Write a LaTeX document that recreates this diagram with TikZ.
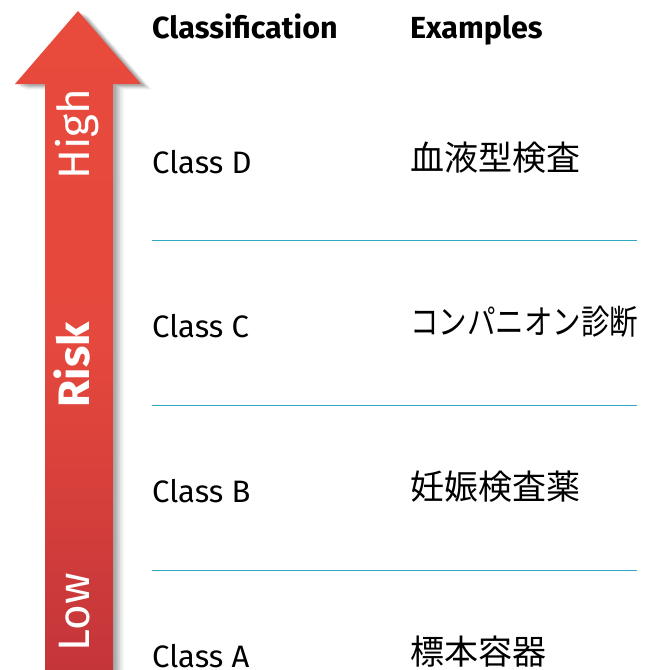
\documentclass[tikz,border=0pt]{standalone}
\usepackage{fontspec}
\setmainfont{Fira Sans}
\newfontfamily\jp{Noto Sans CJK JP}
\definecolor{redtop}{HTML}{E84A3C}
\definecolor{redbot}{HTML}{C3343A}
\definecolor{sepcol}{HTML}{2FA8C0}
\begin{document}
\begin{tikzpicture}[x=1pt,y=-1pt,
  hdr/.style={anchor=base west,inner sep=0,font=\fontsize{30.5}{32}\selectfont\bfseries},
  cls/.style={anchor=base west,inner sep=0,font=\fontsize{31}{33}\selectfont},
  ex/.style={anchor=base west,inner sep=0,font=\fontsize{34}{36}\selectfont\jp},
  rot/.style={anchor=base,rotate=90,inner sep=0,text=white,font=\fontsize{44}{46}\selectfont},
  sep/.style={draw=sepcol,line width=1pt}]
\useasboundingbox (0,0) rectangle (652,670);
% shadow
\foreach \d/\o in {3/0.10,5/0.10,7/0.08,9/0.06,11/0.04}{
  \fill[black,opacity=\o] (78+\d,11+\d*0.5) -- (141+\d,84+\d*0.5) -- (113+\d,84+\d*0.5) -- (113+\d,680) -- (45+\d,680) -- (45+\d,84+\d*0.5) -- (15+\d,84+\d*0.5) -- cycle;
}
% arrow
\shade[top color=redtop,bottom color=redbot,middle color=redtop!92!redbot]
  (78,11) -- (141,84) -- (113,84) -- (113,680) -- (45,680) -- (45,84) -- (15,84) -- cycle;
\node[rot] (high) at (89,134) {High};
\node[rot,font=\fontsize{44}{46}\selectfont\bfseries] (risk) at (89,365) {Risk};
\node[rot] (low) at (89,612) {Low};
% headers
\node[hdr] (h1) at (152,38) {Classification};
\node[hdr] (h2) at (410,38) {Examples};
% rows
\node[cls] (cd) at (152,173) {Class D};
\node[ex]  (ed) at (410,170) {血液型検査};
\node[cls] (cc) at (152,337) {Class C};
\node[ex]  (ec) at (410,334) {\resizebox{228pt}{\height}{コンパニオン診断}};
\node[cls] (cb) at (152,502) {Class B};
\node[ex]  (eb) at (410,499) {妊娠検査薬};
\node[cls] (ca) at (152,667) {Class A};
\node[ex]  (ea) at (410,664) {標本容器};
% separators
\coordinate (l1a) at (152,240.5); \coordinate (l1b) at (637,240.5);
\coordinate (l2a) at (152,405.5); \coordinate (l2b) at (637,405.5);
\coordinate (l3a) at (152,570.5); \coordinate (l3b) at (637,570.5);
\draw[sep] (l1a) -- (l1b);
\draw[sep] (l2a) -- (l2b);
\draw[sep] (l3a) -- (l3b);
\end{tikzpicture}
\end{document}
